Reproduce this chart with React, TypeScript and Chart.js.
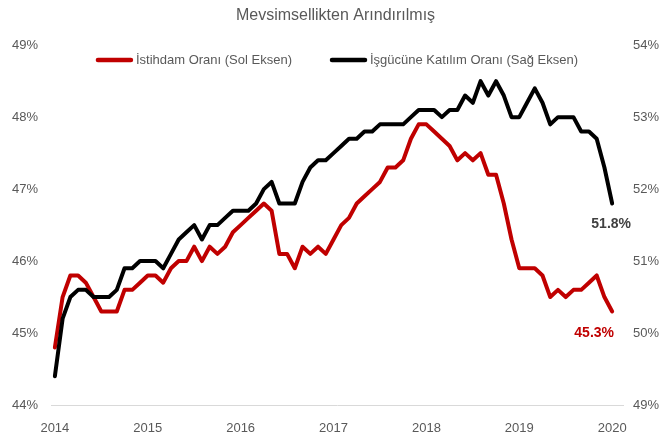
import { useEffect, useRef } from 'react';
import { Chart, registerables } from 'chart.js';

Chart.register(...registerables);

const FONT = "'Liberation Sans', Arial, sans-serif";

const titleText = 'Mevsimsellikten Arındırılmış';
const yearLabels = ['2014', '2015', '2016', '2017', '2018', '2019', '2020'];
const employmentLabel = 'İstihdam Oranı (Sol Eksen)';
const participationLabel = 'İşgücüne Katılım Oranı (Sağ Eksen)';

// Monthly, Jan 2014 .. Jan 2020 (left axis)
const employmentRate = [
  44.8, 45.5, 45.8, 45.8, 45.7, 45.5, 45.3, 45.3, 45.3, 45.6, 45.6, 45.7,
  45.8, 45.8, 45.7, 45.9, 46.0, 46.0, 46.2, 46.0, 46.2, 46.1, 46.2, 46.4,
  46.5, 46.6, 46.7, 46.8, 46.7, 46.1, 46.1, 45.9, 46.2, 46.1, 46.2, 46.1,
  46.3, 46.5, 46.6, 46.8, 46.9, 47.0, 47.1, 47.3, 47.3, 47.4, 47.7, 47.9,
  47.9, 47.8, 47.7, 47.6, 47.4, 47.5, 47.4, 47.5, 47.2, 47.2, 46.8, 46.3,
  45.9, 45.9, 45.9, 45.8, 45.5, 45.6, 45.5, 45.6, 45.6, 45.7, 45.8, 45.5,
  45.3,
];

// Monthly, Jan 2014 .. Jan 2020 (right axis)
const participationRate = [
  49.4, 50.2, 50.5, 50.6, 50.6, 50.5, 50.5, 50.5, 50.6, 50.9, 50.9, 51.0,
  51.0, 51.0, 50.9, 51.1, 51.3, 51.4, 51.5, 51.3, 51.5, 51.5, 51.6, 51.7,
  51.7, 51.7, 51.8, 52.0, 52.1, 51.8, 51.8, 51.8, 52.1, 52.3, 52.4, 52.4,
  52.5, 52.6, 52.7, 52.7, 52.8, 52.8, 52.9, 52.9, 52.9, 52.9, 53.0, 53.1,
  53.1, 53.1, 53.0, 53.1, 53.1, 53.3, 53.2, 53.5, 53.3, 53.5, 53.3, 53.0,
  53.0, 53.2, 53.4, 53.2, 52.9, 53.0, 53.0, 53.0, 52.8, 52.8, 52.7, 52.3,
  51.8,
];

const RED = '#C00000';
const BLACK = '#000000';
const GREY = '#595959';

const customLegend = {
  id: 'customLegend',
  afterDraw(chart: any, _args: any, opts: any) {
    const ctx = chart.ctx;
    const { left, right } = chart.chartArea;
    ctx.save();
    ctx.font = `13px ${FONT}`;
    const lineW = 37;
    const gap = 3;
    const itemGap = 38;
    const items = chart.data.datasets.map((ds: any) => ({
      label: ds.label,
      color: ds.borderColor,
      w: ctx.measureText(ds.label).width,
    }));
    const total =
      items.reduce((s: number, it: any) => s + lineW + gap + it.w, 0) +
      itemGap * (items.length - 1);
    let x = (left + right) / 2 - total / 2;
    const y = opts.y;
    items.forEach((it: any) => {
      ctx.strokeStyle = it.color;
      ctx.lineWidth = 4.5;
      ctx.lineCap = 'round';
      ctx.beginPath();
      ctx.moveTo(x + 2, y);
      ctx.lineTo(x + lineW - 2, y);
      ctx.stroke();
      ctx.fillStyle = GREY;
      ctx.textAlign = 'left';
      ctx.textBaseline = 'middle';
      ctx.fillText(it.label, x + lineW + gap, y);
      x += lineW + gap + it.w + itemGap;
    });
    ctx.restore();
  },
};

const endLabels = {
  id: 'endLabels',
  afterDatasetsDraw(chart: any, _args: any, opts: any) {
    const ctx = chart.ctx;
    chart.data.datasets.forEach((ds: any, di: number) => {
      const meta = chart.getDatasetMeta(di);
      const pt = meta.data[meta.data.length - 1];
      const val = ds.data[ds.data.length - 1].y;
      const off = opts.offsets[di];
      ctx.save();
      ctx.font = `bold 14px ${FONT}`;
      ctx.fillStyle = opts.colors[di];
      ctx.textAlign = 'center';
      ctx.textBaseline = 'middle';
      ctx.fillText(val.toFixed(1) + '%', pt.x + off.dx, pt.y + off.dy);
      ctx.restore();
    });
  },
};

export default function App() {
  const ref = useRef<HTMLCanvasElement | null>(null);

  useEffect(() => {
    document.body.style.margin = '0';
    const canvas = ref.current;
    if (!canvas) return;
    const chart = new Chart(canvas, {
      type: 'line',
      data: {
        datasets: [
          {
            label: employmentLabel,
            data: employmentRate.map((v, i) => ({ x: i, y: v })),
            borderColor: RED,
            backgroundColor: RED,
            borderWidth: 4,
            pointRadius: 0,
            tension: 0,
            yAxisID: 'y',
            order: 1,
            borderJoinStyle: 'round',
            borderCapStyle: 'round',
          },
          {
            label: participationLabel,
            data: participationRate.map((v, i) => ({ x: i, y: v })),
            borderColor: BLACK,
            backgroundColor: BLACK,
            borderWidth: 4,
            pointRadius: 0,
            tension: 0,
            yAxisID: 'y2',
            order: 0,
            borderJoinStyle: 'round',
            borderCapStyle: 'round',
          },
        ],
      },
      options: {
        animation: false,
        responsive: false,
        devicePixelRatio: 1,
        layout: { padding: 0 },
        plugins: {
          legend: { display: false },
          tooltip: { enabled: false },
          title: {
            display: true,
            text: titleText,
            color: GREY,
            font: { family: FONT, size: 16, weight: 'normal' },
            padding: { top: 6, bottom: 20 },
          },
          customLegend: { y: 60 },
          endLabels: {
            offsets: [
              { dx: -18, dy: 22 },
              { dx: -1, dy: 21 },
            ],
            colors: [RED, '#404040'],
          },
        } as any,
        scales: {
          x: {
            type: 'linear',
            min: -0.5,
            max: 73.4,
            afterBuildTicks: (s: any) => {
              s.ticks = yearLabels.map((_, i) => ({ value: i * 12 }));
            },
            afterFit: (s: any) => {
              s.height = 35;
            },
            ticks: {
              callback: (_v: any, i: number) => yearLabels[i],
              color: GREY,
              font: { family: FONT, size: 13 },
              padding: 16,
              maxRotation: 0,
              autoSkip: false,
            },
            grid: { display: false, drawTicks: false },
            border: { display: true, color: '#D9D9D9', width: 1 },
          },
          y: {
            type: 'linear',
            position: 'left',
            min: 44,
            max: 49,
            afterFit: (s: any) => {
              s.width = 51;
            },
            ticks: {
              stepSize: 1,
              callback: (v: any) => v + '%',
              color: GREY,
              font: { family: FONT, size: 13 },
              padding: 13,
            },
            grid: { display: false, drawTicks: false },
            border: { display: false },
          },
          y2: {
            type: 'linear',
            position: 'right',
            min: 49,
            max: 54,
            afterFit: (s: any) => {
              s.width = 48;
            },
            ticks: {
              stepSize: 1,
              callback: (v: any) => v + '%',
              color: GREY,
              font: { family: FONT, size: 13 },
              padding: 10,
            },
            grid: { display: false, drawTicks: false },
            border: { display: false },
          },
        },
      } as any,
      plugins: [customLegend, endLabels],
    });
    return () => chart.destroy();
  }, []);

  return (
    <div style={{ width: 671, height: 440 }}>
      <canvas ref={ref} width={671} height={440} style={{ display: 'block' }} />
    </div>
  );
}
